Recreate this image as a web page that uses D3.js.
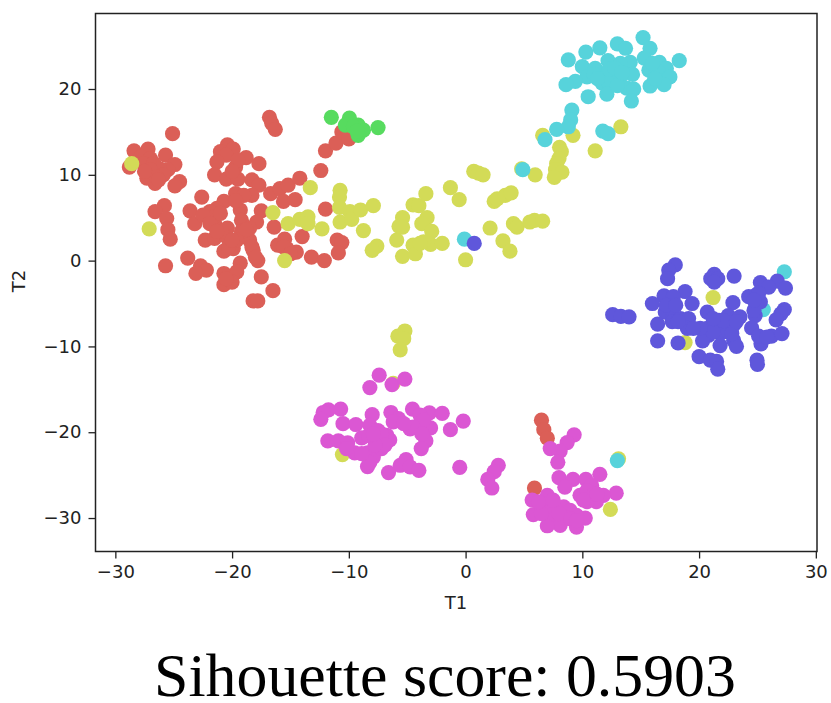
<!DOCTYPE html>
<html>
<head>
<meta charset="utf-8">
<script src="https://cdn.jsdelivr.net/npm/d3@7"></script>
<style>
  html, body { margin: 0; padding: 0; background: #fff; }
  svg { display: block; }
</style>
</head>
<body>
<svg width="831" height="703"></svg>
<script>
// Values, one [T1, T2] list per cluster
const redPoints = [
  [-16.8,16.7],[-16.6,16.0],[-16.3,15.3],[-25.1,14.8],[-28.4,12.8],[-27.2,13.0],[-27.8,12.1],[-25.7,12.3],[-27.0,11.9],
  [-28.8,10.9],[-27.6,11.3],[-26.7,11.3],[-24.9,11.2],[-25.5,10.6],[-26.2,10.7],[-27.0,10.6],[-27.3,9.6],[-26.6,9.0],
  [-25.9,10.0],[-24.5,9.2],[-24.9,8.7],[-26.5,9.8],[-20.4,13.5],[-21.0,12.7],[-19.9,13.0],[-20.5,12.3],[-18.8,12.0],
  [-21.3,11.5],[-19.7,10.9],[-17.7,11.3],[-21.5,10.0],[-20.5,9.5],[-19.5,9.5],[-18.3,9.4],[-17.7,8.8],[-19.5,11.7],
  [-22.6,7.4],[-19.7,7.8],[-18.3,7.6],[-19.0,7.6],[-20.7,6.9],[-21.3,6.1],[-21.9,5.7],[-23.6,5.8],[-23.2,4.3],[-21.5,4.3],
  [-19.3,5.9],[-19.2,4.7],[-17.5,5.8],[-17.9,4.5],[-18.5,3.8],[-20.4,3.8],[-19.2,3.4],[-22.3,2.4],[-21.5,2.6],[-20.5,2.8],
  [-18.5,2.4],[-19.9,1.4],[-20.7,1.1],[-18.2,1.2],[-17.8,0.0],[-19.3,-0.3],[-19.6,-1.3],[-23.8,0.3],[-25.7,-0.6],
  [-22.7,-0.6],[-22.2,-1.1],[-23.1,-1.5],[-20.7,-1.5],[-20.7,-2.8],[-20.0,-2.5],[-17.5,-1.9],[-16.5,-3.5],[-18.2,-4.7],
  [-17.8,-4.7],[-25.8,6.4],[-26.6,5.7],[-25.6,4.9],[-25.5,3.6],[-25.3,2.5],[-16.7,7.8],[-15.9,8.4],[-15.2,8.8],[-14.2,9.6],
  [-15.6,6.9],[-14.6,7.1],[-12.0,6.0],[-12.4,10.5],[-12.0,12.8],[-11.1,13.7],[-16.4,3.9],[-14.0,2.8],[-15.5,2.5],[-16.1,1.8],
  [-14.5,1.0],[-15.3,1.4],[-13.2,0.4],[-12.1,0.0],[-11.0,2.4],[-10.6,2.1],[-10.9,0.9],[-21.6,5.1],[-22.5,5.3],[-20.9,3.4],
  [-18.8,2.8],[-19.7,7.0],[-10.6,15.0],[-10.0,14.2],[6.5,-18.6],[6.7,-19.7],[7.0,-20.7],[5.9,-26.5],
  [-21.0,5.5],[-21.9,4.3],[-21.3,3.4],[-19.6,2.4],[-20.3,1.6],[-18.8,3.6],[-20.0,2.4],[-27.5,10.4],[-26.3,9.4],[-20.0,10.4],
  [-20.5,-2.1],[-18.3,1.6],[-18.0,0.4],[-15.6,1.6],[-15.0,0.8]
];
const yellowPoints = [
  [-28.6,11.3],[-27.1,3.7],[-13.3,8.5],[-16.5,5.6],[-15.2,4.3],[-15.5,0.0],[-14.2,4.8],[-13.5,5.1],[-13.5,4.3],[-12.3,3.7],
  [-10.75,8.2],[-10.8,7.4],[-10.8,6.2],[-9.9,5.7],[-10.75,4.5],[-9.75,4.8],[-9.0,5.9],[-7.9,6.4],[-8.75,3.5],[-7.6,1.7],
  [-8.0,1.2],[-5.9,2.4],[-5.4,5.0],[-5.7,4.0],[-5.4,3.9],[-5.4,0.5],[-4.5,1.8],[-4.3,0.8],[-4.5,6.5],[-4.0,6.4],[-3.4,7.8],
  [-3.3,5.0],[-3.75,4.3],[-2.9,3.4],[-3.0,1.9],[-3.6,2.2],[-2.0,2.0],[-1.3,8.5],[-0.55,7.1],[0.0,0.1],[0.7,10.4],[1.1,10.2],
  [1.5,10.0],[2.1,3.8],[2.45,6.9],[2.7,7.2],[3.4,7.6],[3.9,7.9],[3.2,2.3],[3.8,1.1],[4.1,4.3],[4.4,3.9],[5.5,4.5],[5.9,4.7],
  [6.6,4.6],[4.8,10.7],[5.96,10.0],[6.6,14.6],[8.05,13.2],[8.2,12.7],[8.0,11.9],[7.8,11.3],[7.7,10.6],[8.25,10.3],[7.6,9.7],
  [9.2,14.6],[13.3,15.6],[11.1,12.8],[21.2,-4.3],[18.8,-9.55],[-5.2,-8.2],[-5.8,-8.8],[-5.3,-9.1],[-5.6,-10.4],[-10.55,-22.6],
  [-6.2,-14.3],[12.4,-29.0],[13.1,-23.1],[-3.9,2.0]
];
const greenPoints = [
  [-11.5,16.7],[-9.95,16.6],[-10.3,15.8],[-9.2,15.8],[-8.75,15.2],[-9.2,14.6],[-9.6,15.6],[-7.5,15.5],[-9.3,15.1]
];
const cyanPoints = [
  [15.2,26.0],[13.0,25.25],[13.7,24.75],[11.5,24.8],[10.3,24.3],[8.8,23.4],[15.8,24.75],[15.3,23.6],[18.3,23.3],[16.6,23.1],
  [14.1,23.1],[12.2,23.3],[10.0,22.6],[11.1,22.4],[13.25,23.0],[15.7,22.2],[17.2,22.4],[16.5,22.0],[11.8,21.8],[12.7,21.6],
  [14.3,21.7],[17.5,21.4],[17.0,20.5],[15.8,20.35],[10.4,21.4],[9.4,20.9],[8.6,20.5],[11.7,20.7],[13.25,21.4],[12.25,20.9],
  [13.8,20.1],[14.4,20.0],[12.1,19.4],[10.5,19.1],[14.2,18.6],[9.1,17.55],[9.0,16.4],[8.8,15.6],[7.8,15.3],[6.8,14.1],
  [11.75,15.1],[12.2,14.8],[4.9,10.6],[-0.1,2.5],[27.3,-1.3],[25.5,-5.7],[13.0,-23.3],
  [11.0,21.7],[12.3,22.3],[13.0,20.4],[16.2,21.2],[16.0,23.0],[12.8,22.4],[11.3,21.2],[13.4,21.9]
];
const bluePoints = [
  [17.96,-0.5],[17.4,-1.1],[17.3,-2.1],[21.3,-1.6],[21.0,-2.1],[21.6,-2.1],[21.3,-2.5],[23.0,-1.8],[25.25,-2.55],[26.7,-2.4],
  [27.4,-3.2],[25.96,-3.1],[18.8,-3.6],[17.0,-4.1],[17.8,-4.2],[16.0,-5.0],[19.4,-5.0],[24.25,-4.2],[24.9,-4.0],[25.25,-4.8],
  [22.9,-4.9],[12.6,-6.3],[13.3,-6.5],[14.0,-6.55],[17.1,-6.0],[17.7,-5.8],[17.7,-7.1],[18.4,-6.75],[16.45,-7.4],[19.1,-6.75],
  [20.7,-6.0],[21.7,-6.95],[22.5,-6.4],[23.5,-6.55],[24.8,-6.4],[27.3,-5.7],[27.0,-6.2],[26.6,-6.9],[24.5,-7.85],[19.0,-7.9],
  [20.7,-7.9],[21.4,-7.5],[22.2,-7.7],[22.96,-7.5],[20.8,-8.7],[21.8,-8.5],[22.5,-8.3],[20.3,-9.35],[21.8,-9.9],[22.96,-9.3],
  [23.2,-10.0],[16.45,-9.35],[18.2,-9.6],[25.3,-9.7],[25.1,-8.8],[26.2,-8.8],[27.1,-8.5],[20.0,-11.2],[20.96,-11.6],[21.5,-11.75],
  [21.6,-12.65],[24.96,-11.6],[25.0,-12.1],[0.74,2.0],
  [21.2,-8.3],[22.1,-7.0],[22.8,-8.5],[20.1,-7.9],[21.2,-6.75],[23.2,-7.1],[17.2,-5.2],[18.0,-5.2],[18.2,-7.1],[19.5,-7.9],
  [25.8,-8.9],[24.7,-5.8],[25.1,-3.8],[24.7,-4.6]
];
const pinkPoints = [
  [-7.4,-13.35],[-8.2,-14.8],[-6.3,-14.45],[-5.2,-13.8],[-10.7,-17.3],[-11.75,-17.4],[-12.2,-17.7],[-12.4,-18.5],[-10.5,-19.0],
  [-9.4,-19.1],[-8.0,-17.95],[-6.4,-17.7],[-5.75,-18.4],[-4.55,-17.3],[-3.1,-17.75],[-2.0,-17.8],[-3.9,-18.0],[-0.2,-18.7],
  [-1.3,-19.7],[-3.0,-19.5],[-4.75,-19.6],[-3.9,-19.0],[-6.2,-18.8],[-8.2,-19.2],[-7.5,-19.8],[-6.75,-20.35],[-8.9,-20.65],
  [-11.8,-21.0],[-10.9,-21.0],[-10.1,-21.25],[-9.5,-22.4],[-8.4,-22.4],[-7.9,-22.9],[-8.4,-24.0],[-8.2,-23.5],[-7.2,-21.9],
  [-6.5,-20.9],[-7.6,-20.9],[-3.4,-21.0],[-3.8,-21.9],[-5.1,-23.2],[-5.6,-23.85],[-4.75,-24.05],[-4.0,-24.45],[-6.6,-24.7],
  [-0.5,-24.1],[2.8,-23.85],[2.45,-24.6],[1.9,-25.5],[2.25,-26.5],[9.3,-20.3],[8.7,-21.2],[8.1,-22.2],[7.25,-21.9],[7.9,-23.5],
  [8.0,-25.3],[9.2,-25.5],[8.5,-26.4],[10.3,-25.5],[11.5,-24.9],[10.8,-26.2],[12.9,-27.1],[11.8,-27.35],[11.2,-28.1],[9.8,-27.35],
  [10.4,-28.1],[7.0,-27.35],[5.7,-27.9],[5.8,-29.6],[6.5,-28.7],[7.5,-28.5],[8.4,-28.7],[8.95,-29.1],[7.1,-29.9],[10.25,-30.0],
  [9.5,-31.05],[8.1,-30.85],[7.0,-30.9],[8.5,-29.9],[9.5,-29.7],
  [-7.2,-20.2],[-6.9,-21.5],[-7.75,-21.5],[-8.3,-20.4],[-3.6,-18.6],[-4.5,-19.4],[-5.3,-19.0],[-8.9,-22.5],[-10.2,-21.9],
  [-7.9,-20.2],[-3.75,-20.2],[10.4,-26.8],[11.0,-27.2],[10.1,-27.9],[7.5,-29.5],[6.5,-29.5],[6.25,-28.1],[8.0,-29.5],[9.0,-30.1],
  [7.5,-27.9],[11.25,-27.2],[9.5,-30.3]
];
const clusterColors = ["#db5f57", "#d3db57", "#57db5f", "#57d3db", "#5f57db", "#db57d3"];
const xTicks = [-30, -20, -10, 0, 10, 20, 30];
const yTicks = [-30, -20, -10, 0, 10, 20];

// Create axes with ticks
let x = d3.scaleLinear().domain([-31.7, 30.1]).range([95.5, 817]);
let y = d3.scaleLinear().domain([-33.9, 28.8]).range([551.5, 13.5]);

let xAxis = d3.axisBottom(x).tickValues(xTicks).tickSize(7).tickPadding(7);
let yAxis = d3.axisLeft(y).tickValues(yTicks).tickSize(7).tickPadding(7);

let svg = d3.select("svg");

// Later clusters sit on top of earlier ones
let clusters = [redPoints, yellowPoints, greenPoints, cyanPoints, bluePoints, pinkPoints];
clusters.forEach(function (points, i) {
  svg
    .append("g")
    .selectAll("circle")
    .data(points)
    .enter()
    .append("circle")
    .attr("cx", function (d) {
      return x(d[0]);
    })
    .attr("cy", function (d) {
      return y(d[1]);
    })
    .attr("r", 7.6)
    .style("fill", clusterColors[i]);
});

svg
  .append("rect")
  .attr("x", x.range()[0])
  .attr("y", y.range()[1])
  .attr("width", x.range()[1] - x.range()[0])
  .attr("height", y.range()[0] - y.range()[1])
  .style("fill", "none")
  .style("stroke", "#222")
  .style("stroke-width", 1.5);

let gx = svg.append("g").attr("transform", "translate(0, 551.5)").call(xAxis);
let gy = svg.append("g").attr("transform", "translate(95.5, 0)").call(yAxis);

[gx, gy].forEach(function (g) {
  g.select(".domain").remove();
  g.selectAll("line").style("stroke", "#222").style("stroke-width", 1.3);
  g.selectAll("text")
    .style("font-family", "'DejaVu Sans'")
    .style("font-size", "18px")
    .style("fill", "#222");
});

svg
  .append("text")
  .attr("x", 456)
  .attr("y", 609)
  .attr("text-anchor", "middle")
  .style("font-family", "'DejaVu Sans'")
  .style("font-size", "18px")
  .style("fill", "#222")
  .text("T1");

svg
  .append("text")
  .attr("transform", "translate(25, 281) rotate(-90)")
  .attr("text-anchor", "middle")
  .style("font-family", "'DejaVu Sans'")
  .style("font-size", "18px")
  .style("fill", "#222")
  .text("T2");

svg
  .append("text")
  .attr("x", 445)
  .attr("y", 696)
  .attr("text-anchor", "middle")
  .style("font-family", "'Liberation Serif'")
  .style("font-size", "61.8px")
  .style("fill", "#000")
  .text("Sihouette score: 0.5903");
</script>
</body>
</html>
